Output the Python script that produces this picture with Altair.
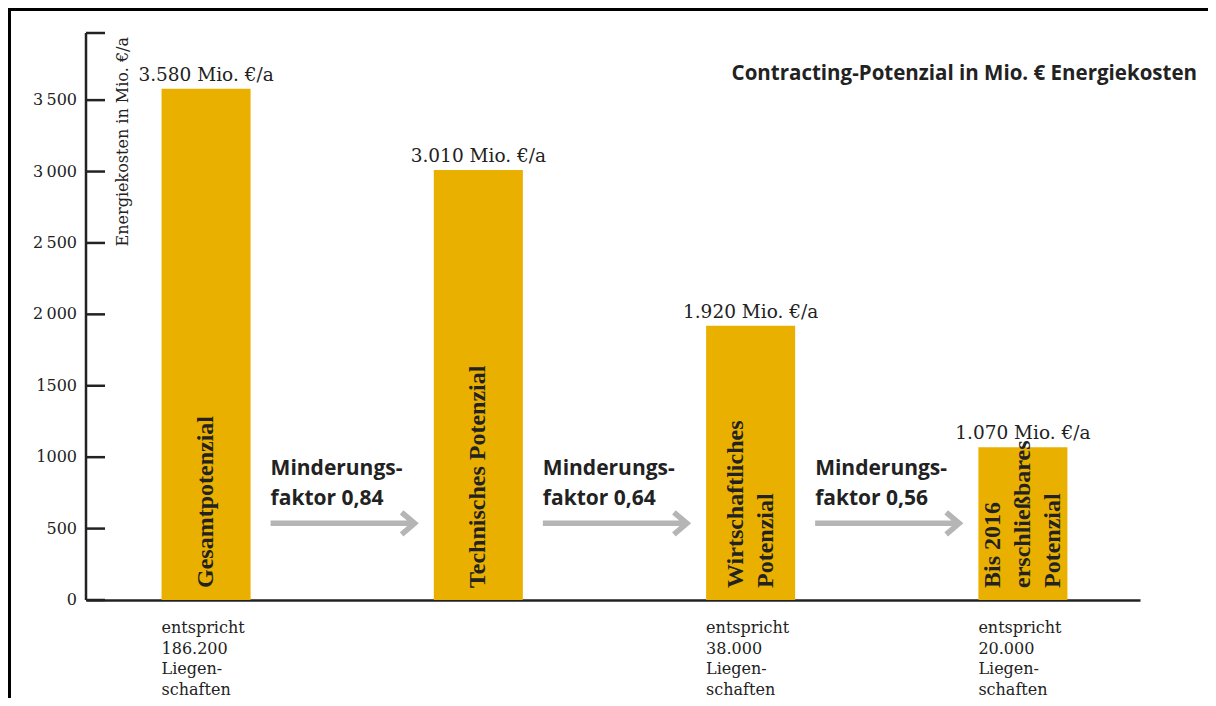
import altair as alt
import pandas as pd

# ---------------- data ----------------
CATEGORIES = [
    "Gesamtpotenzial",
    "Technisches Potenzial",
    "Wirtschaftliches Potenzial",
    "Bis 2016 erschließbares Potenzial",
]
BAR_TEXT_LINES = [
    ["Gesamtpotenzial"],
    ["Technisches Potenzial"],
    ["Wirtschaftliches", "Potenzial"],
    ["Bis 2016", "erschließbares", "Potenzial"],
]
VALUES = [3580, 3010, 1920, 1070]
NOTE_CATEGORIES = ["Gesamtpotenzial", "Wirtschaftliches Potenzial", "Bis 2016 erschließbares Potenzial"]
NOTE_COUNTS = ["186.200", "38.000", "20.000"]
ARROW_FROM = ["Gesamtpotenzial", "Technisches Potenzial", "Wirtschaftliches Potenzial"]
FACTORS = ["0,84", "0,64", "0,56"]
Y_TICKS = [0, 500, 1000, 1500, 2000, 2500, 3000, 3500]
Y_TICK_LABELS = ["0", "500", "1000", "1500", "2\u2009000", "2\u2009500", "3\u2009000", "3\u2009500"]
Y_MAX = 3970
TITLE = "Contracting-Potenzial in Mio. € Energiekosten"
Y_TITLE = "Energiekosten in Mio. €/a"

# ---------------- tables ----------------
bars = pd.DataFrame({
    "cat": CATEGORIES,
    "value": VALUES,
    "label": [f"{v:,}".replace(",", ".") + " Mio. €/a" for v in VALUES],
})
line_rows = []
for cat, lines in zip(CATEGORIES, BAR_TEXT_LINES):
    n = len(lines)
    for i, line in enumerate(lines):
        line_rows.append({"cat": cat, "line": line, "slot": i - (n - 1) / 2})
bar_lines = pd.DataFrame(line_rows)

notes = pd.DataFrame({
    "cat": NOTE_CATEGORIES,
    "lines": [["entspricht", c, "Liegen-", "schaften"] for c in NOTE_COUNTS],
})
arrows = pd.DataFrame({
    "src": ARROW_FROM,
    "lines": [["Minderungs-", f"faktor {f}"] for f in FACTORS],
})
ticks = pd.DataFrame({"v": Y_TICKS + [Y_MAX]})
tick_labels = pd.DataFrame({"v": Y_TICKS, "label": Y_TICK_LABELS})
one = pd.DataFrame({"k": [0]})

W, H = 1054, 567
BAR_COLOR = "#EAB000"
ARROW_COLOR = "#B5B5B5"
INK = "#222222"
SERIF = "DejaVu Serif"
SANS = "Open Sans"
LINE_H = 30

x_scale = alt.Scale(domain=CATEGORIES, paddingInner=0.673, paddingOuter=0.272, align=0.51)
y_scale = alt.Scale(domain=[0, Y_MAX], nice=False, zero=True)


def X(field, **kw):
    return alt.X(field, type="nominal", scale=x_scale, sort=CATEGORIES, title=None, **kw)


def Y(field):
    return alt.Y(field, type="quantitative", scale=y_scale, axis=None)


bar_layer = alt.Chart(bars).mark_bar(color=BAR_COLOR).encode(x=X("cat"), y=Y("value"))

value_labels = alt.Chart(bars).mark_text(
    font=SERIF, fontSize=18.5, color=INK, baseline="alphabetic", dy=-8
).encode(x=X("cat"), y=Y("value"), text="label:N")

# rotated labels inside the bars, one layer per line slot so the block is centred
bar_text_layers = []
for s in sorted(bar_lines["slot"].unique()):
    bar_text_layers.append(
        alt.Chart(bar_lines).transform_filter(alt.datum.slot == float(s)).mark_text(
            font="Liberation Serif", fontSize=24, fontWeight="bold", color=INK,
            angle=270, align="left", baseline="middle", dx=12, dy=float(s) * LINE_H
        ).encode(x=X("cat"), y=alt.value(H), text="line:N")
    )

note_text = alt.Chart(notes).mark_text(
    font=SERIF, fontSize=16, color=INK, align="left", baseline="alphabetic", dy=33, lineHeight=20.5
).encode(x=X("cat", bandPosition=0), y=alt.value(H), text="lines")

# arrow: shaft of 144 px plus chevron head, drawn as one stroked symbol
ARROW_PATH = "M-1,0L1,0M0.82,-0.153L1,0L0.82,0.153"
arrow = alt.Chart(arrows).mark_point(
    shape=ARROW_PATH, size=144 * 144, filled=False, stroke=ARROW_COLOR,
    strokeWidth=5.5, opacity=1, xOffset=92, strokeJoin="miter", strokeCap="butt"
).encode(x=X("src", bandPosition=1), y=alt.value(490.3))

arrow_text = alt.Chart(arrows).mark_text(
    font=SANS, fontSize=21, fontWeight="bold", color=INK, align="left",
    baseline="alphabetic", lineHeight=30, xOffset=20
).encode(x=X("src", bandPosition=1), y=alt.value(442), text="lines")

y_domain = alt.Chart(one).mark_rule(color=INK, strokeWidth=2.5).encode(
    x=alt.value(0), y=alt.value(0), y2=alt.value(H)
)
y_ticks = alt.Chart(ticks).mark_rule(color=INK, strokeWidth=2.5).encode(
    y=Y("v"), x=alt.value(0), x2=alt.value(19)
)
y_labels = alt.Chart(tick_labels).mark_text(
    font=SERIF, fontSize=16, color=INK, align="right", baseline="middle"
).encode(y=Y("v"), x=alt.value(-9), text="label:N")

y_title = alt.Chart(one).mark_text(
    text=Y_TITLE, font=SERIF, fontSize=16, color=INK, angle=270, align="right", baseline="alphabetic"
).encode(x=alt.value(42), y=alt.value(4))

title = alt.Chart(one).mark_text(
    text=TITLE, font=SANS, fontSize=20.5, fontWeight="bold", color=INK, align="right", baseline="alphabetic"
).encode(x=alt.value(1111), y=alt.value(47))

frame_top = alt.Chart(one).mark_rule(color="black", strokeWidth=3).encode(
    x=alt.value(-78), x2=alt.value(1122), y=alt.value(-23.5)
)
frame_left = alt.Chart(one).mark_rule(color="black", strokeWidth=3).encode(
    x=alt.value(-76.5), y=alt.value(-25), y2=alt.value(680)
)

chart = alt.layer(
    bar_layer, value_labels, *bar_text_layers, note_text, arrow, arrow_text,
    y_domain, y_ticks, y_labels, y_title, title, frame_top, frame_left,
).properties(
    width=W, height=H,
    autosize=alt.AutoSizeParams(type="none"),
    padding={"left": 78, "top": 25, "right": 68, "bottom": 98},
    background="white",
).configure_view(stroke=None).configure_axisX(
    labels=False, ticks=False, grid=False, domain=True, domainColor=INK, domainWidth=2.5
)

chart.save("out.html", embed_options={"renderer": "svg", "actions": False})
